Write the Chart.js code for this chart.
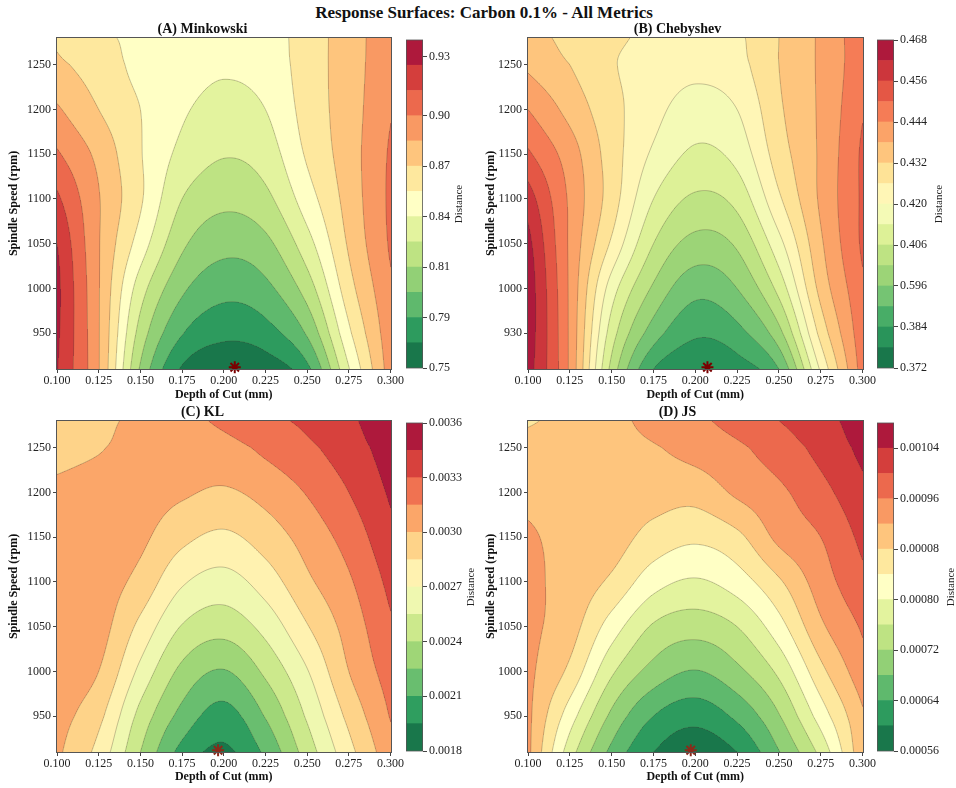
<!DOCTYPE html>
<html>
<head>
<meta charset="utf-8">
<script src="https://cdn.jsdelivr.net/npm/chart.js@4.4.0/dist/chart.umd.min.js"></script>
<style>
  html, body { margin: 0; padding: 0; background: #fff; }
  #page { position: relative; width: 956px; height: 788px; overflow: hidden; }
  #page canvas { position: absolute; }
  #suptitle { position: absolute; left: 6px; top: 3px; width: 956px; text-align: center;
              font: bold 17px "Liberation Serif", "Times New Roman", serif; color: #111; }
</style>
</head>
<body>
<div id="page">
  <div id="suptitle">Response Surfaces: Carbon 0.1% - All Metrics</div>
</div>
<script>
// grid the surfaces were read on
const depthOfCut = [0.100, 0.125, 0.150, 0.175, 0.200, 0.225, 0.250, 0.275, 0.300];
const spindleSpeed = [910, 950, 1000, 1050, 1100, 1150, 1200, 1250, 1280];

// rows follow spindleSpeed (bottom -> top), columns follow depthOfCut
const minkowski = [
  [0.931, 0.886, 0.808, 0.763, 0.752, 0.756, 0.776, 0.839, 0.893],
  [0.933, 0.886, 0.819, 0.781, 0.769, 0.774, 0.797, 0.852, 0.895],
  [0.934, 0.886, 0.832, 0.798, 0.785, 0.791, 0.817, 0.864, 0.898],
  [0.930, 0.886, 0.848, 0.813, 0.800, 0.806, 0.834, 0.872, 0.902],
  [0.918, 0.886, 0.857, 0.825, 0.814, 0.821, 0.848, 0.876, 0.903],
  [0.902, 0.881, 0.856, 0.836, 0.826, 0.832, 0.857, 0.878, 0.902],
  [0.887, 0.870, 0.855, 0.842, 0.835, 0.840, 0.861, 0.878, 0.899],
  [0.873, 0.863, 0.851, 0.846, 0.842, 0.846, 0.862, 0.878, 0.896],
  [0.868, 0.858, 0.852, 0.848, 0.846, 0.848, 0.862, 0.878, 0.895]
];
const chebyshev = [
  [0.465, 0.443, 0.406, 0.384, 0.379, 0.381, 0.390, 0.421, 0.447],
  [0.466, 0.443, 0.411, 0.393, 0.385, 0.388, 0.400, 0.428, 0.448],
  [0.466, 0.443, 0.417, 0.401, 0.392, 0.396, 0.410, 0.434, 0.449],
  [0.464, 0.443, 0.425, 0.408, 0.400, 0.403, 0.418, 0.437, 0.451],
  [0.459, 0.443, 0.429, 0.414, 0.407, 0.410, 0.425, 0.439, 0.451],
  [0.451, 0.441, 0.429, 0.419, 0.413, 0.416, 0.429, 0.439, 0.451],
  [0.444, 0.436, 0.428, 0.422, 0.417, 0.420, 0.431, 0.439, 0.4495],
  [0.437, 0.432, 0.4265, 0.424, 0.422, 0.424, 0.432, 0.439, 0.448],
  [0.435, 0.430, 0.427, 0.425, 0.424, 0.425, 0.432, 0.439, 0.448]
];
const klDivergence = [
  [0.00303, 0.00280, 0.00240, 0.00205, 0.00192, 0.00213, 0.00247, 0.00280, 0.00310],
  [0.00306, 0.00289, 0.00250, 0.00220, 0.00204, 0.00226, 0.00257, 0.00289, 0.00316],
  [0.00309, 0.00300, 0.00266, 0.00236, 0.00224, 0.00243, 0.00269, 0.00300, 0.00322],
  [0.00312, 0.00306, 0.00281, 0.00254, 0.00246, 0.00260, 0.00284, 0.00306, 0.00328],
  [0.00310, 0.00307, 0.00295, 0.00272, 0.00264, 0.00277, 0.00297, 0.00313, 0.00334],
  [0.00310, 0.00308, 0.00303, 0.00289, 0.00282, 0.00292, 0.00306, 0.00321, 0.00341],
  [0.00304, 0.00307, 0.00306, 0.00302, 0.00298, 0.00305, 0.00316, 0.00330, 0.00347],
  [0.00294, 0.00299, 0.00305, 0.00308, 0.00310, 0.00318, 0.00327, 0.00338, 0.00352],
  [0.00290, 0.00297, 0.00303, 0.00310, 0.00318, 0.00326, 0.00333, 0.00342, 0.00357]
];
const jsDivergence = [
  [0.000930, 0.000779, 0.000669, 0.000600, 0.000570, 0.000600, 0.000678, 0.000772, 0.000910],
  [0.000930, 0.000819, 0.000711, 0.000640, 0.000615, 0.000649, 0.000717, 0.000818, 0.000915],
  [0.000930, 0.000870, 0.000767, 0.000705, 0.000678, 0.000710, 0.000769, 0.000868, 0.000945],
  [0.000930, 0.000897, 0.000821, 0.000755, 0.000737, 0.000760, 0.000824, 0.000912, 0.000965],
  [0.000930, 0.000905, 0.000872, 0.000816, 0.000795, 0.000820, 0.000874, 0.000940, 0.000990],
  [0.000925, 0.000908, 0.000898, 0.000865, 0.000848, 0.000870, 0.000930, 0.000960, 0.001010],
  [0.000910, 0.000905, 0.000900, 0.000897, 0.000895, 0.000927, 0.000952, 0.000987, 0.001030],
  [0.000895, 0.000900, 0.000910, 0.000917, 0.000935, 0.000953, 0.000980, 0.001012, 0.001050],
  [0.000875, 0.000893, 0.000910, 0.000931, 0.000951, 0.000975, 0.001000, 0.001025, 0.001060]
];

// contour levels (band edges)
const minkowskiLevels = [0.750, 0.765, 0.780, 0.795, 0.810, 0.825, 0.840, 0.855, 0.870, 0.885, 0.900, 0.915, 0.930, 0.945];
const chebyshevLevels = [0.372, 0.378, 0.384, 0.390, 0.396, 0.402, 0.408, 0.414, 0.420, 0.426, 0.432, 0.438, 0.444, 0.450, 0.456, 0.462, 0.468];
const klLevels = [0.00180, 0.00195, 0.00210, 0.00225, 0.00240, 0.00255, 0.00270, 0.00285, 0.00300, 0.00315, 0.00330, 0.00345, 0.00360];
const jsLevels = [0.00056, 0.00060, 0.00064, 0.00068, 0.00072, 0.00076, 0.00080, 0.00084, 0.00088, 0.00092, 0.00096, 0.00100, 0.00104, 0.00108];

// colorbar ticks and the labels printed on them
const minkowskiTicks = [0.75, 0.78, 0.81, 0.84, 0.87, 0.90, 0.935];
const minkowskiTickLabels = ['0.75', '0.79', '0.81', '0.84', '0.87', '0.90', '0.93'];
const chebyshevTicks = [0.372, 0.384, 0.396, 0.408, 0.420, 0.432, 0.444, 0.456, 0.468];
const chebyshevTickLabels = ['0.372', '0.384', '0.596', '0.406', '0.420', '0.432', '0.444', '0.456', '0.468'];
const klTicks = [0.0018, 0.0021, 0.0024, 0.0027, 0.0030, 0.0033, 0.0036];
const klTickLabels = ['0.0018', '0.0021', '0.0024', '0.0027', '0.0030', '0.0033', '0.0036'];
const jsTicks = [0.00056, 0.00064, 0.00072, 0.00080, 0.00088, 0.00096, 0.00104];
const jsTickLabels = ['0.00056', '0.00064', '0.00072', '0.00080', '0.00008', '0.00096', '0.00104'];

// axis ticks
const depthTicks = [0.100, 0.125, 0.150, 0.175, 0.200, 0.225, 0.250, 0.275, 0.300];
const speedTicks = [950, 1000, 1050, 1100, 1150, 1200, 1250];
const speedLabels = ['950', '1000', '1050', '1100', '1150', '1200', '1250'];
const speedLabelsB = ['930', '1000', '1050', '1100', '1150', '1200', '1250'];

// optimum marked with a star
const minkowskiBest = [0.2066, 912];
const chebyshevBest = [0.2073, 912];
const klBest = [0.1966, 912];
const jsBest = [0.1973, 912];

const serif = '"Liberation Serif", "Times New Roman", serif';
const RDYLGN_R = ['#006837', '#1a9850', '#66bd63', '#a6d96a', '#d9ef8b', '#ffffbf',
                  '#fee08b', '#fdae61', '#f46d43', '#d73027', '#a50026'];
const FILL_ALPHA = 0.9;
const page = document.getElementById('page');

function hex(h) {
  return [parseInt(h.slice(1, 3), 16), parseInt(h.slice(3, 5), 16), parseInt(h.slice(5, 7), 16)];
}
function bandRgb(i, n) {
  const pos = (n > 1 ? i / (n - 1) : 0) * (RDYLGN_R.length - 1);
  const k = Math.min(Math.floor(pos), RDYLGN_R.length - 2);
  const f = pos - k;
  const a = hex(RDYLGN_R[k]), b = hex(RDYLGN_R[k + 1]);
  return a.map((v, j) => Math.round((v + (b[j] - v) * f) * FILL_ALPHA + 255 * (1 - FILL_ALPHA)));
}
function bandCss(i, n) {
  const c = bandRgb(i, n);
  return 'rgb(' + c.join(',') + ')';
}
function band(levels, v) {
  const n = levels.length - 1;
  if (v < levels[0]) return 0;
  for (let i = 0; i < n; i++) if (v < levels[i + 1]) return i;
  return n - 1;
}

// catmull-rom over the read grid
function locate(arr, v) {
  let i = 0;
  while (i < arr.length - 2 && v > arr[i + 1]) i++;
  let t = (v - arr[i]) / (arr[i + 1] - arr[i]);
  return [i, Math.max(0, Math.min(1, t))];
}
function node(g, r, c) {
  const nr = g.length, nc = g[0].length;
  if (r < 0) return 2 * node(g, 0, c) - node(g, 1, c);
  if (r >= nr) return 2 * node(g, nr - 1, c) - node(g, nr - 2, c);
  if (c < 0) return 2 * g[r][0] - g[r][1];
  if (c >= nc) return 2 * g[r][nc - 1] - g[r][nc - 2];
  return g[r][c];
}
function cr(p0, p1, p2, p3, t) {
  return 0.5 * (2 * p1 + (p2 - p0) * t + (2 * p0 - 5 * p1 + 4 * p2 - p3) * t * t + (3 * p1 - p0 - 3 * p2 + p3) * t * t * t);
}
function surface(g, x, y) {
  const [i, t] = locate(depthOfCut, x);
  const [j, u] = locate(spindleSpeed, y);
  const c = [];
  for (let k = -1; k <= 2; k++) {
    const r = j + k;
    c.push(cr(node(g, r, i - 1), node(g, r, i), node(g, r, i + 1), node(g, r, i + 2), t));
  }
  return cr(c[0], c[1], c[2], c[3], u);
}

function contourPlugin(p) {
  return {
    id: 'contour',
    beforeDatasetsDraw(chart) {
      const ctx = chart.ctx, a = chart.chartArea;
      const sx = chart.scales.x, sy = chart.scales.y;
      const x0 = Math.round(a.left), y0 = Math.round(a.top);
      const w = Math.round(a.right) - x0, h = Math.round(a.bottom) - y0;
      const n = p.levels.length - 1;
      const rgb = [];
      for (let i = 0; i < n; i++) rgb.push(bandRgb(i, n));

      const xv = [], yv = [];
      for (let i = 0; i < w; i++) xv.push(sx.getValueForPixel(x0 + i + 0.5));
      for (let j = 0; j < h; j++) yv.push(sy.getValueForPixel(y0 + j + 0.5));
      const img = ctx.createImageData(w, h);
      for (let j = 0; j < h; j++) {
        for (let i = 0; i < w; i++) {
          const c = rgb[band(p.levels, surface(p.grid, xv[i], yv[j]))];
          const o = (j * w + i) * 4;
          img.data[o] = c[0]; img.data[o + 1] = c[1]; img.data[o + 2] = c[2]; img.data[o + 3] = 255;
        }
      }
      ctx.putImageData(img, x0, y0);

      // contour lines, marching squares on a 2px lattice
      const step = 2;
      const nx = Math.ceil(w / step) + 1, ny = Math.ceil(h / step) + 1;
      const px = [], py = [], vals = new Float64Array(nx * ny);
      for (let i = 0; i < nx; i++) px.push(Math.min(x0 + i * step, x0 + w));
      for (let j = 0; j < ny; j++) py.push(Math.min(y0 + j * step, y0 + h));
      for (let j = 0; j < ny; j++) {
        const yy = sy.getValueForPixel(py[j]);
        for (let i = 0; i < nx; i++) vals[j * nx + i] = surface(p.grid, sx.getValueForPixel(px[i]), yy);
      }
      ctx.save();
      ctx.beginPath();
      ctx.rect(x0, y0, w, h);
      ctx.clip();
      ctx.lineWidth = 0.6;
      ctx.strokeStyle = 'rgba(70,60,50,0.5)';
      for (let L = 1; L < p.levels.length - 1; L++) {
        const lv = p.levels[L];
        ctx.beginPath();
        for (let j = 0; j < ny - 1; j++) {
          for (let i = 0; i < nx - 1; i++) {
            const va = vals[j * nx + i], vb = vals[j * nx + i + 1];
            const vc = vals[(j + 1) * nx + i + 1], vd = vals[(j + 1) * nx + i];
            const pts = [];
            if ((va < lv) !== (vb < lv)) pts.push([px[i] + (lv - va) / (vb - va) * (px[i + 1] - px[i]), py[j]]);
            if ((vb < lv) !== (vc < lv)) pts.push([px[i + 1], py[j] + (lv - vb) / (vc - vb) * (py[j + 1] - py[j])]);
            if ((vd < lv) !== (vc < lv)) pts.push([px[i] + (lv - vd) / (vc - vd) * (px[i + 1] - px[i]), py[j + 1]]);
            if ((va < lv) !== (vd < lv)) pts.push([px[i], py[j] + (lv - va) / (vd - va) * (py[j + 1] - py[j])]);
            for (let k = 0; k + 1 < pts.length; k += 2) {
              ctx.moveTo(pts[k][0], pts[k][1]);
              ctx.lineTo(pts[k + 1][0], pts[k + 1][1]);
            }
          }
        }
        ctx.stroke();
      }
      ctx.restore();
    },
    afterDraw(chart) {
      const ctx = chart.ctx, a = chart.chartArea;
      ctx.save();
      ctx.strokeStyle = '#555';
      ctx.lineWidth = 1;
      ctx.strokeRect(Math.round(a.left) - 0.5, Math.round(a.top) - 0.5,
                     Math.round(a.right) - Math.round(a.left) + 1, Math.round(a.bottom) - Math.round(a.top) + 1);
      ctx.restore();
    }
  };
}

function addCanvas(left, top, w, h) {
  const cv = document.createElement('canvas');
  cv.width = w; cv.height = h;
  cv.style.left = left + 'px'; cv.style.top = top + 'px';
  cv.style.width = w + 'px'; cv.style.height = h + 'px';
  page.appendChild(cv);
  return cv;
}

function surfaceChart(p) {
  const cv = addCanvas(p.left, p.top, p.w, p.h);
  return new Chart(cv, {
    type: 'scatter',
    data: {
      datasets: [{
        data: [{ x: p.best[0], y: p.best[1] }],
        pointStyle: 'star', radius: 6, borderWidth: 2,
        borderColor: p.starEdge, backgroundColor: '#d62728', clip: false
      }]
    },
    options: {
      responsive: false, animation: false, devicePixelRatio: 1,
      layout: { padding: { left: 0, right: 0, top: 0, bottom: 0 } },
      plugins: {
        legend: { display: false },
        tooltip: { enabled: false },
        title: {
          display: true, text: p.title, color: '#111',
          font: { family: serif, size: 14, weight: 'bold' },
          padding: { top: 7, bottom: 0 }
        }
      },
      scales: {
        x: {
          type: 'linear', min: 0.1, max: 0.3,
          afterBuildTicks: s => { s.ticks = depthTicks.map(v => ({ value: v })); },
          afterFit: s => { s.height = p.xh; },
          ticks: { callback: v => v.toFixed(3), color: '#222', padding: 1, maxRotation: 0, autoSkip: false,
                   font: { family: serif, size: 12 } },
          grid: { display: true, drawOnChartArea: false, tickLength: 4, tickColor: '#444' },
          border: { display: false },
          title: { display: true, text: 'Depth of Cut (mm)', color: '#111',
                   font: { family: serif, size: 12, weight: 'bold' }, padding: { top: 0, bottom: p.xtb } }
        },
        y: {
          type: 'linear', min: 910, max: 1280,
          afterBuildTicks: s => { s.ticks = speedTicks.map(v => ({ value: v })); },
          afterFit: s => { s.width = p.yw; },
          ticks: { callback: (v, i) => p.yLabels[i], color: '#222', padding: 2, autoSkip: false,
                   font: { family: serif, size: 12 } },
          grid: { display: true, drawOnChartArea: false, tickLength: 4, tickColor: '#444' },
          border: { display: false },
          title: { display: true, text: 'Spindle Speed (rpm)', color: '#111',
                   font: { family: serif, size: 12, weight: 'bold' }, padding: { top: p.ytp, bottom: 0 } }
        }
      }
    },
    plugins: [contourPlugin(p)]
  });
}

function colorbarChart(p) {
  const cv = addCanvas(p.cbLeft, p.cbTop, p.cbW, p.cbH);
  const n = p.levels.length - 1;
  const datasets = [];
  for (let i = 0; i < n; i++) {
    datasets.push({
      data: [[p.levels[i], p.levels[i + 1]]],
      backgroundColor: bandCss(i, n), borderWidth: 0,
      grouped: false, barPercentage: 1, categoryPercentage: 1
    });
  }
  return new Chart(cv, {
    type: 'bar',
    data: { labels: ['Distance'], datasets },
    options: {
      responsive: false, animation: false, devicePixelRatio: 1,
      layout: { padding: { left: 0, right: 0, top: 10, bottom: 10 } },
      plugins: { legend: { display: false }, tooltip: { enabled: false } },
      scales: {
        x: { display: false },
        y: {
          position: 'right', min: p.levels[0], max: p.levels[n],
          afterBuildTicks: s => { s.ticks = p.cbTicks.map(v => ({ value: v })); },
          afterFit: s => { s.width = p.cbW - 17; },
          ticks: { callback: (v, i) => p.cbLabels[i], color: '#222', padding: 2, autoSkip: false,
                   font: { family: serif, size: 12 } },
          grid: { display: true, drawOnChartArea: false, tickLength: 4, tickColor: '#444' },
          border: { display: false }
        }
      }
    },
    plugins: [{
      id: 'cbframe',
      afterDraw(chart) {
        const ctx = chart.ctx, a = chart.chartArea;
        ctx.save();
        ctx.strokeStyle = '#555';
        ctx.lineWidth = 0.8;
        ctx.strokeRect(a.left + 0.4, a.top, a.right - a.left - 0.8, a.bottom - a.top);
        ctx.translate(p.distX, (a.top + a.bottom) / 2);
        ctx.rotate(-Math.PI / 2);
        ctx.fillStyle = '#222';
        ctx.font = '11px ' + serif;
        ctx.textAlign = 'center';
        ctx.textBaseline = 'middle';
        ctx.fillText('Distance', 0, 0);
        ctx.restore();
      }
    }]
  });
}

const panels = [
  { title: '(A) Minkowski', grid: minkowski, levels: minkowskiLevels, cbTicks: minkowskiTicks, cbLabels: minkowskiTickLabels,
    yLabels: speedLabels, best: minkowskiBest, starEdge: '#7a0000',
    left: 0, top: 14, w: 405, h: 390, yw: 57, ytp: 7, xh: 35, xtb: 2,
    cbLeft: 406, cbTop: 30, cbW: 60, cbH: 348, distX: 53 },
  { title: '(B) Chebyshev', grid: chebyshev, levels: chebyshevLevels, cbTicks: chebyshevTicks, cbLabels: chebyshevTickLabels,
    yLabels: speedLabelsB, best: chebyshevBest, starEdge: '#7a0000',
    left: 478, top: 14, w: 399, h: 390, yw: 50, ytp: 6, xh: 35, xtb: 2,
    cbLeft: 877, cbTop: 30, cbW: 79, cbH: 348, distX: 62 },
  { title: '(C) KL', grid: klDivergence, levels: klLevels, cbTicks: klTicks, cbLabels: klTickLabels,
    yLabels: speedLabels, best: klBest, starEdge: '#8b2a1a',
    left: 0, top: 397, w: 405, h: 391, yw: 57, ytp: 7, xh: 36, xtb: 3.5,
    cbLeft: 406, cbTop: 413, cbW: 70, cbH: 348, distX: 65 },
  { title: '(D) JS', grid: jsDivergence, levels: jsLevels, cbTicks: jsTicks, cbLabels: jsTickLabels,
    yLabels: speedLabels, best: jsBest, starEdge: '#8b2a1a',
    left: 478, top: 397, w: 399, h: 391, yw: 50, ytp: 6, xh: 36, xtb: 3.5,
    cbLeft: 877, cbTop: 413, cbW: 79, cbH: 348, distX: 74 }
];

panels.forEach(p => { surfaceChart(p); });
panels.forEach(p => { colorbarChart(p); });
</script>
</body>
</html>
